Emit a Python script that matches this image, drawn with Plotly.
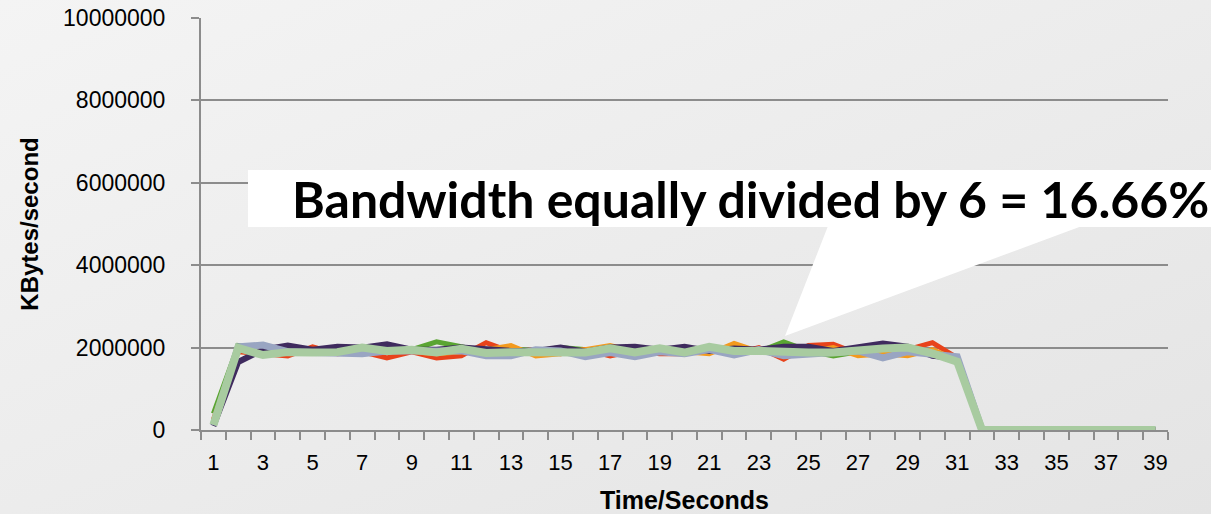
import base64
import plotly.graph_objects as go

seconds = list(range(1, 40))
tick_labels = [str(s) for s in range(1, 40, 2)]

zeros = [0] * 8
green = [400000, 2050000, 1950000, 1920000, 1950000, 1900000, 1950000, 1930000, 1950000, 2140000,
         2020000, 1900000, 1970000, 1920000, 2000000, 1950000, 1900000, 1950000, 1900000, 1960000,
         1930000, 1950000, 1900000, 2140000, 1920000, 1800000, 1900000, 1950000, 1930000, 1850000,
         1700000] + zeros
red = [250000, 1900000, 1850000, 1800000, 2020000, 1850000, 1900000, 1750000, 1900000, 1750000,
       1800000, 2120000, 1900000, 1950000, 1850000, 1950000, 1800000, 1920000, 1850000, 1850000,
       1950000, 1850000, 2000000, 1720000, 2050000, 2080000, 1850000, 1820000, 1950000, 2120000,
       1750000] + zeros
orange = [200000, 1950000, 1950000, 2000000, 1950000, 1900000, 2000000, 1950000, 1900000, 1850000,
          1900000, 1950000, 2050000, 1800000, 1850000, 1950000, 2050000, 1900000, 1950000, 1900000,
          1850000, 2100000, 1900000, 1850000, 1900000, 2000000, 1800000, 1850000, 1800000, 1950000,
          1700000] + zeros
purple = [100000, 1650000, 1950000, 2050000, 1950000, 2020000, 2000000, 2080000, 1950000, 1950000,
          2000000, 1950000, 1920000, 1920000, 2000000, 1900000, 2000000, 2020000, 1950000, 2020000,
          1920000, 1980000, 1950000, 2020000, 2020000, 1920000, 2020000, 2100000, 2020000, 1800000,
          1750000] + zeros
greyblue = [120000, 2020000, 2060000, 1900000, 1880000, 1880000, 1850000, 1920000, 1920000, 1950000,
            1920000, 1800000, 1800000, 1950000, 1920000, 1780000, 1880000, 1780000, 1900000, 1850000,
            1950000, 1820000, 1950000, 1800000, 1820000, 1880000, 1920000, 1750000, 1900000, 1850000,
            1780000] + zeros
lightgreen = [120000, 1990000, 1820000, 1890000, 1880000, 1890000, 2000000, 1920000, 1950000, 1880000,
              1970000, 1870000, 1890000, 1900000, 1880000, 1880000, 1980000, 1880000, 1980000, 1880000,
              2020000, 1920000, 1920000, 1880000, 1880000, 1880000, 1940000, 1980000, 2000000, 1860000,
              1660000] + zeros

series = [
    ("Flow 1", green, "#5aa532", 5),
    ("Flow 2", red, "#e8431b", 5),
    ("Flow 3", orange, "#f39a1e", 5),
    ("Flow 4", purple, "#3f2b5e", 6),
    ("Flow 5", greyblue, "#99a5c2", 7),
    ("Flow 6", lightgreen, "#a8cba0", 8),
]

fig = go.Figure()
for name, vals, col, w in series:
    fig.add_trace(go.Scatter(x=seconds, y=vals, mode="lines", name=name,
                             line=dict(color=col, width=w), showlegend=False))

L, R, T, B = 201, 1168, 18, 430
W, H = 1211, 514


def px(xp):
    return (xp - L) / (R - L)


def py(yp):
    return (B - yp) / (B - T)


# soft background gradient
svg = ('<svg xmlns="http://www.w3.org/2000/svg" width="1211" height="514">'
       '<defs><linearGradient id="g" x1="0" y1="0" x2="1" y2="1">'
       '<stop offset="0" stop-color="#f4f4f4"/><stop offset="1" stop-color="#e4e4e4"/>'
       '</linearGradient></defs><rect width="1211" height="514" fill="url(#g)"/></svg>')
src = "data:image/svg+xml;base64," + base64.b64encode(svg.encode()).decode()
fig.add_layout_image(source=src, xref="paper", yref="paper",
                     x=px(0), y=py(0), sizex=px(W) - px(0), sizey=py(0) - py(H),
                     xanchor="left", yanchor="top", sizing="stretch", layer="below")

fig.add_shape(type="rect", xref="paper", yref="paper",
              x0=px(248), x1=px(1211), y0=py(227), y1=py(170),
              fillcolor="white", line=dict(width=0), layer="above")
fig.add_shape(type="path", xref="paper", yref="paper",
              path=f"M {px(828)},{py(226)} L {px(1082)},{py(226)} L {px(785)},{py(336)} Z",
              fillcolor="white", line=dict(width=0), layer="above")
fig.add_annotation(xref="paper", yref="paper", x=px(750), y=py(199),
                   text="<b>Bandwidth equally divided by 6 = 16.66%</b>",
                   showarrow=False, xanchor="center", yanchor="middle",
                   font=dict(family="Lato, Open Sans, sans-serif", size=50, color="black"))

fig.update_layout(
    width=W, height=H,
    margin=dict(l=L, r=W - R, t=T, b=H - B),
    paper_bgcolor="#ececec",
    plot_bgcolor="rgba(0,0,0,0)",
    font=dict(family="Liberation Sans, Arial, sans-serif", color="black"),
)
fig.update_xaxes(
    range=[0.5, 39.5], automargin=False,
    tickmode="array", tickvals=list(range(1, 40, 2)), ticktext=tick_labels,
    ticks="", tickfont=dict(size=22), ticklabelstandoff=12,
    showgrid=False, zeroline=False,
    showline=True, linecolor="#8c8c8c", linewidth=2,
    minor=dict(tick0=0.5, dtick=1, ticks="outside", ticklen=8, tickcolor="#8c8c8c", tickwidth=2, showgrid=False),
    title=dict(text="<b>Time/Seconds</b>", font=dict(size=25), standoff=22),
)
fig.update_yaxes(
    range=[0, 10000000], tickmode="linear", tick0=0, dtick=2000000, automargin=False,
    tickformat="d",
    ticks="outside", ticklen=8, tickcolor="#8c8c8c", tickwidth=2,
    tickfont=dict(size=23), ticklabelstandoff=21,
    showgrid=True, gridcolor="#8c8c8c", gridwidth=2,
    zeroline=False, showline=True, linecolor="#8c8c8c", linewidth=2,
    title=dict(text="<b>KBytes/second</b>", font=dict(size=24), standoff=18),
)

fig.write_html("out.html", config={"displayModeBar": False},
               post_script="document.body.style.margin='0px';document.body.style.overflow='hidden';")
